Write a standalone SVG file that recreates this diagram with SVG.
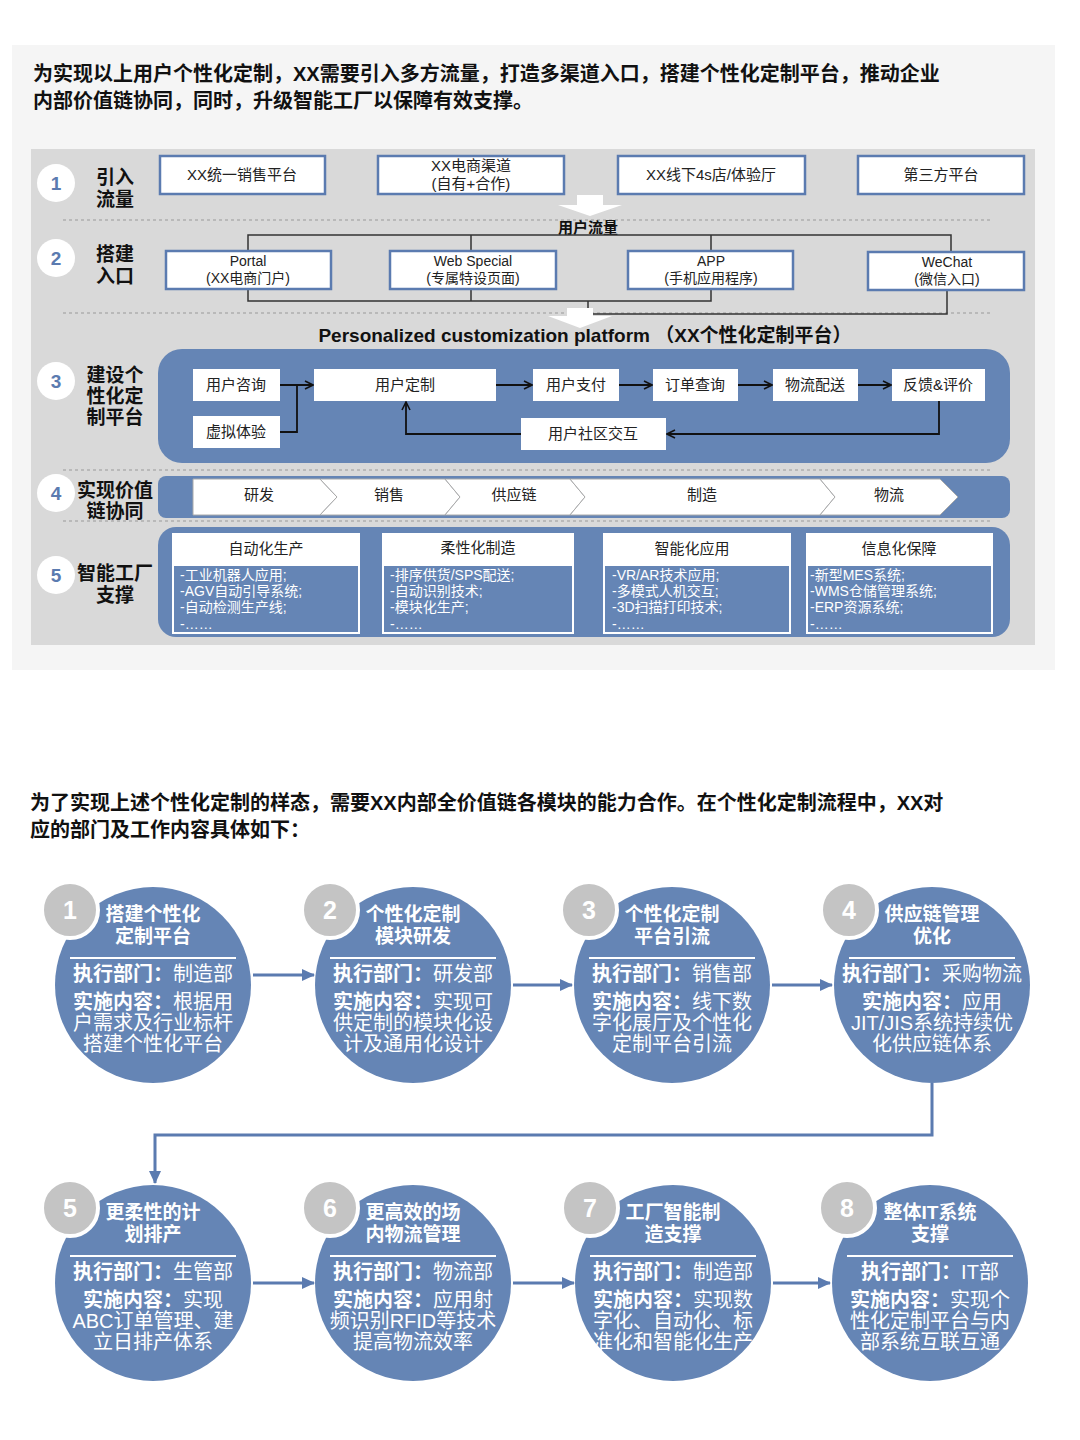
<svg xmlns="http://www.w3.org/2000/svg" width="1080" height="1440" viewBox="0 0 1080 1440">
<defs>
<style>
text{font-family:"Liberation Sans","Noto Sans CJK SC",sans-serif;}
.h{font-size:20px;font-weight:bold;fill:#111;}
.bx{fill:#fff;stroke:#5b7bb0;stroke-width:2.5;}
.wb{fill:#fff;}
.t{font-size:15px;fill:#222;text-anchor:middle;}
.ts{font-size:14px;fill:#222;text-anchor:middle;}
.lb{font-size:19px;font-weight:bold;fill:#111;text-anchor:middle;}
.num{font-size:19px;font-weight:bold;fill:#5b7bb0;text-anchor:middle;}
.ln{fill:none;stroke:#333;stroke-width:1.5;}
.dk{fill:none;stroke:#111;stroke-width:1.8;}
.dash{stroke:#999;stroke-width:1;stroke-dasharray:3 3;}
.blue{fill:#6585b5;}
.wt{font-size:14px;fill:#fff;}
.ct{font-size:19px;font-weight:bold;fill:#fff;text-anchor:middle;}
.cb{font-size:20px;fill:#fff;text-anchor:middle;}
.cb b{font-weight:bold;}
.gc{fill:#c4c4c4;stroke:#fff;stroke-width:4;}
.gn{font-size:25px;font-weight:bold;fill:#fff;text-anchor:middle;}
.fl{stroke:#5b7bb0;stroke-width:3;fill:none;}
</style>
<marker id="a" markerWidth="10" markerHeight="10" refX="9" refY="5" orient="auto" markerUnits="userSpaceOnUse"><path d="M1,1 L9,5 L1,9" fill="none" stroke="#111" stroke-width="1.6"/></marker>
<marker id="b" markerWidth="14" markerHeight="14" refX="12" refY="7" orient="auto" markerUnits="userSpaceOnUse"><path d="M0,1 L13,7 L0,13 Z" fill="#5b7bb0"/></marker>
</defs>
<rect width="1080" height="1440" fill="#fff"/>
<rect x="12" y="45" width="1043" height="625" fill="#f5f5f5"/>
<text class="h" x="33" y="81">为实现以上用户个性化定制，XX需要引入多方流量，打造多渠道入口，搭建个性化定制平台，推动企业</text>
<text class="h" x="33" y="108">内部价值链协同，同时，升级智能工厂以保障有效支撑。</text>
<rect x="31" y="149" width="1004" height="496" fill="#d9d9d9"/>
<g id="dashes">
<line class="dash" x1="63" y1="220" x2="990" y2="220"/>
<line class="dash" x1="63" y1="313" x2="990" y2="313"/>
<line class="dash" x1="63" y1="470" x2="990" y2="470"/>
<line class="dash" x1="63" y1="521" x2="990" y2="521"/>
</g>
<g id="labels">
<circle cx="56" cy="183" r="19" fill="#fff"/><text class="num" x="56" y="190">1</text>
<text class="lb" x="115" y="184">引入</text><text class="lb" x="115" y="206">流量</text>
<circle cx="56" cy="258" r="19" fill="#fff"/><text class="num" x="56" y="265">2</text>
<text class="lb" x="115" y="261">搭建</text><text class="lb" x="115" y="283">入口</text>
<circle cx="56" cy="381" r="19" fill="#fff"/><text class="num" x="56" y="388">3</text>
<text class="lb" x="115" y="382">建设个</text><text class="lb" x="115" y="403">性化定</text><text class="lb" x="115" y="424">制平台</text>
<circle cx="56" cy="493" r="19" fill="#fff"/><text class="num" x="56" y="500">4</text>
<text class="lb" x="115" y="497">实现价值</text><text class="lb" x="115" y="518">链协同</text>
<circle cx="56" cy="575" r="19" fill="#fff"/><text class="num" x="56" y="582">5</text>
<text class="lb" x="115" y="580">智能工厂</text><text class="lb" x="115" y="602">支撑</text>
</g>
<g id="row1">
<rect class="bx" x="160" y="156" width="165" height="38"/><text class="t" x="242" y="180">XX统一销售平台</text>
<rect class="bx" x="378" y="156" width="186" height="38"/><text class="t" x="471" y="171">XX电商渠道</text><text class="t" x="471" y="189">(自有+合作)</text>
<rect class="bx" x="618" y="156" width="187" height="38"/><text class="t" x="711" y="180">XX线下4s店/体验厅</text>
<rect class="bx" x="858" y="156" width="166" height="38"/><text class="t" x="941" y="180">第三方平台</text>
</g>
<g id="flow1">
<path d="M577,195 H603 V205 H622 L590,216 L558,205 H577 Z" fill="#fff"/>
<text x="588" y="233" font-size="15" font-weight="bold" fill="#111" text-anchor="middle">用户流量</text>
</g>
<g id="connectors-bracket">
<path class="ln" d="M248,251 V235 H951 V251 M471,235 V251 M711,235 V251"/>
<path class="ln" d="M248,289 V301 H711 V289 M471,289 V301 M947,290 V314 H593 M588,301 V308"/>
</g>
<g id="row2">
<rect class="bx" x="166" y="251" width="165" height="38"/><text class="ts" x="248" y="266">Portal</text><text class="ts" x="248" y="283">(XX电商门户)</text>
<rect class="bx" x="390" y="251" width="166" height="38"/><text class="ts" x="473" y="266">Web Special</text><text class="ts" x="473" y="283">(专属特设页面)</text>
<rect class="bx" x="628" y="251" width="165" height="38"/><text class="ts" x="711" y="266">APP</text><text class="ts" x="711" y="283">(手机应用程序)</text>
<rect class="bx" x="868" y="252" width="156" height="38"/><text class="ts" x="947" y="267">WeChat</text><text class="ts" x="947" y="284">(微信入口)</text>
</g>
<path d="M567,308 H593 V316 H612 L580,328 L548,316 H567 Z" fill="#fff"/>
<text x="585" y="342" font-size="19" font-weight="bold" fill="#111" text-anchor="middle">Personalized customization platform （XX个性化定制平台）</text>
<g id="platform">
<rect class="blue" x="158" y="349" width="852" height="114" rx="24"/>
<rect class="wb" x="193" y="369" width="87" height="32"/><text class="t" x="236" y="390">用户咨询</text>
<rect class="wb" x="193" y="416" width="87" height="32"/><text class="t" x="236" y="437">虚拟体验</text>
<rect class="wb" x="314" y="369" width="182" height="32"/><text class="t" x="405" y="390">用户定制</text>
<rect class="wb" x="533" y="369" width="86" height="32"/><text class="t" x="576" y="390">用户支付</text>
<rect class="wb" x="653" y="369" width="85" height="32"/><text class="t" x="695" y="390">订单查询</text>
<rect class="wb" x="773" y="369" width="85" height="32"/><text class="t" x="815" y="390">物流配送</text>
<rect class="wb" x="892" y="369" width="93" height="32"/><text class="t" x="938" y="390">反馈&amp;评价</text>
<rect class="wb" x="521" y="418" width="145" height="32"/><text class="t" x="593" y="439">用户社区交互</text>
</g>
<g id="connectors-platform">
<path class="dk" d="M280,385 H313" marker-end="url(#a)"/>
<path class="dk" d="M280,432 H297 V385"/>
<path class="dk" d="M496,385 H532" marker-end="url(#a)"/>
<path class="dk" d="M619,385 H652" marker-end="url(#a)"/>
<path class="dk" d="M738,385 H772" marker-end="url(#a)"/>
<path class="dk" d="M858,385 H891" marker-end="url(#a)"/>
<path class="dk" d="M939,401 V434 H667" marker-end="url(#a)"/>
<path class="dk" d="M521,434 H406 V402" marker-end="url(#a)"/>
</g>
<g id="valuechain">
<rect class="blue" x="158" y="476" width="852" height="42" rx="8"/>
<g fill="#fff" stroke="#aaa" stroke-width="1">
<path d="M193,479 H320 L337,497 L320,515 H193 Z"/>
<path d="M320,479 H445 L460,497 L445,515 H320 L337,497 Z"/>
<path d="M445,479 H570 L585,497 L570,515 H445 L460,497 Z"/>
<path d="M570,479 H820 L835,497 L820,515 H570 L585,497 Z"/>
<path d="M820,479 H940 L958,497 L940,515 H820 L835,497 Z"/>
</g>
<text class="t" x="259" y="500">研发</text><text class="t" x="389" y="500">销售</text><text class="t" x="514" y="500">供应链</text><text class="t" x="702" y="500">制造</text><text class="t" x="889" y="500">物流</text>
</g>
<g id="factory">
<rect class="blue" x="158" y="527" width="852" height="110" rx="18"/>
<g stroke="#fff" stroke-width="2" fill="none">
<rect x="173" y="565" width="186" height="68"/><rect x="383" y="565" width="190" height="68"/><rect x="604" y="565" width="186" height="68"/><rect x="807" y="565" width="185" height="68"/>
</g>
<rect class="wb" x="172" y="533" width="188" height="32"/><text class="t" x="266" y="554">自动化生产</text>
<rect class="wb" x="382" y="533" width="192" height="32"/><text class="t" x="478" y="553">柔性化制造</text>
<rect class="wb" x="603" y="533" width="188" height="32"/><text class="t" x="692" y="554">智能化应用</text>
<rect class="wb" x="806" y="533" width="187" height="32"/><text class="t" x="899" y="554">信息化保障</text>
<g class="wt">
<text x="180" y="580">-工业机器人应用;</text><text x="180" y="596">-AGV自动引导系统;</text><text x="180" y="612">-自动检测生产线;</text><text x="180" y="629">-……</text>
<text x="390" y="580">-排序供货/SPS配送;</text><text x="390" y="596">-自动识别技术;</text><text x="390" y="612">-模块化生产;</text><text x="390" y="629">-……</text>
<text x="612" y="580">-VR/AR技术应用;</text><text x="612" y="596">-多模式人机交互;</text><text x="612" y="612">-3D扫描打印技术;</text><text x="612" y="629">-……</text>
<text x="810" y="580">-新型MES系统;</text><text x="810" y="596">-WMS仓储管理系统;</text><text x="810" y="612">-ERP资源系统;</text><text x="810" y="629">-……</text>
</g>
</g>
<text class="h" x="30" y="810">为了实现上述个性化定制的样态，需要XX内部全价值链各模块的能力合作。在个性化定制流程中，XX对</text>
<text class="h" x="30" y="837">应的部门及工作内容具体如下：</text>
<g id="flow-connectors">
<path class="fl" d="M253,975 H314" marker-end="url(#b)"/>
<path class="fl" d="M513,985 H572" marker-end="url(#b)"/>
<path class="fl" d="M772,985 H832" marker-end="url(#b)"/>
<path class="fl" d="M932,1083 V1135 H155 V1183" marker-end="url(#b)"/>
<path class="fl" d="M253,1283 H314" marker-end="url(#b)"/>
<path class="fl" d="M513,1283 H574" marker-end="url(#b)"/>
<path class="fl" d="M773,1283 H830" marker-end="url(#b)"/>
</g>
<g id="c1"><circle class="blue" cx="153" cy="985" r="98"/><line x1="70" y1="958" x2="236" y2="958" stroke="#fff" stroke-width="2"/>
<text class="ct" x="153" y="921">搭建个性化</text><text class="ct" x="153" y="943">定制平台</text>
<text class="cb" x="153" y="981"><tspan font-weight="bold">执行部门：</tspan>制造部</text>
<text class="cb" x="153" y="1009"><tspan font-weight="bold">实施内容：</tspan>根据用</text><text class="cb" x="153" y="1030">户需求及行业标杆</text><text class="cb" x="153" y="1051">搭建个性化平台</text>
<circle class="gc" cx="70" cy="910" r="28"/><text class="gn" x="70" y="919">1</text></g>
<g id="c2"><circle class="blue" cx="413" cy="985" r="98"/><line x1="330" y1="958" x2="496" y2="958" stroke="#fff" stroke-width="2"/>
<text class="ct" x="413" y="921">个性化定制</text><text class="ct" x="413" y="943">模块研发</text>
<text class="cb" x="413" y="981"><tspan font-weight="bold">执行部门：</tspan>研发部</text>
<text class="cb" x="413" y="1009"><tspan font-weight="bold">实施内容：</tspan>实现可</text><text class="cb" x="413" y="1030">供定制的模块化设</text><text class="cb" x="413" y="1051">计及通用化设计</text>
<circle class="gc" cx="330" cy="910" r="28"/><text class="gn" x="330" y="919">2</text></g>
<g id="c3"><circle class="blue" cx="672" cy="985" r="98"/><line x1="589" y1="958" x2="755" y2="958" stroke="#fff" stroke-width="2"/>
<text class="ct" x="672" y="921">个性化定制</text><text class="ct" x="672" y="943">平台引流</text>
<text class="cb" x="672" y="981"><tspan font-weight="bold">执行部门：</tspan>销售部</text>
<text class="cb" x="672" y="1009"><tspan font-weight="bold">实施内容：</tspan>线下数</text><text class="cb" x="672" y="1030">字化展厅及个性化</text><text class="cb" x="672" y="1051">定制平台引流</text>
<circle class="gc" cx="589" cy="910" r="28"/><text class="gn" x="589" y="919">3</text></g>
<g id="c4"><circle class="blue" cx="932" cy="985" r="98"/><line x1="849" y1="958" x2="1015" y2="958" stroke="#fff" stroke-width="2"/>
<text class="ct" x="932" y="921">供应链管理</text><text class="ct" x="932" y="943">优化</text>
<text class="cb" x="932" y="981"><tspan font-weight="bold">执行部门：</tspan>采购物流</text>
<text class="cb" x="932" y="1009"><tspan font-weight="bold">实施内容：</tspan>应用</text><text class="cb" x="932" y="1030">JIT/JIS系统持续优</text><text class="cb" x="932" y="1051">化供应链体系</text>
<circle class="gc" cx="849" cy="910" r="28"/><text class="gn" x="849" y="919">4</text></g>
<g id="c5"><circle class="blue" cx="153" cy="1283" r="98"/><line x1="70" y1="1256" x2="236" y2="1256" stroke="#fff" stroke-width="2"/>
<text class="ct" x="153" y="1219">更柔性的计</text><text class="ct" x="153" y="1241">划排产</text>
<text class="cb" x="153" y="1279"><tspan font-weight="bold">执行部门：</tspan>生管部</text>
<text class="cb" x="153" y="1307"><tspan font-weight="bold">实施内容：</tspan>实现</text><text class="cb" x="153" y="1328">ABC订单管理、建</text><text class="cb" x="153" y="1349">立日排产体系</text>
<circle class="gc" cx="70" cy="1208" r="28"/><text class="gn" x="70" y="1217">5</text></g>
<g id="c6"><circle class="blue" cx="413" cy="1283" r="98"/><line x1="330" y1="1256" x2="496" y2="1256" stroke="#fff" stroke-width="2"/>
<text class="ct" x="413" y="1219">更高效的场</text><text class="ct" x="413" y="1241">内物流管理</text>
<text class="cb" x="413" y="1279"><tspan font-weight="bold">执行部门：</tspan>物流部</text>
<text class="cb" x="413" y="1307"><tspan font-weight="bold">实施内容：</tspan>应用射</text><text class="cb" x="413" y="1328">频识别RFID等技术</text><text class="cb" x="413" y="1349">提高物流效率</text>
<circle class="gc" cx="330" cy="1208" r="28"/><text class="gn" x="330" y="1217">6</text></g>
<g id="c7"><circle class="blue" cx="673" cy="1283" r="98"/><line x1="590" y1="1256" x2="756" y2="1256" stroke="#fff" stroke-width="2"/>
<text class="ct" x="673" y="1219">工厂智能制</text><text class="ct" x="673" y="1241">造支撑</text>
<text class="cb" x="673" y="1279"><tspan font-weight="bold">执行部门：</tspan>制造部</text>
<text class="cb" x="673" y="1307"><tspan font-weight="bold">实施内容：</tspan>实现数</text><text class="cb" x="673" y="1328">字化、自动化、标</text><text class="cb" x="673" y="1349">准化和智能化生产</text>
<circle class="gc" cx="590" cy="1208" r="28"/><text class="gn" x="590" y="1217">7</text></g>
<g id="c8"><circle class="blue" cx="930" cy="1283" r="98"/><line x1="847" y1="1256" x2="1013" y2="1256" stroke="#fff" stroke-width="2"/>
<text class="ct" x="930" y="1219">整体IT系统</text><text class="ct" x="930" y="1241">支撑</text>
<text class="cb" x="930" y="1279"><tspan font-weight="bold">执行部门：</tspan>IT部</text>
<text class="cb" x="930" y="1307"><tspan font-weight="bold">实施内容：</tspan>实现个</text><text class="cb" x="930" y="1328">性化定制平台与内</text><text class="cb" x="930" y="1349">部系统互联互通</text>
<circle class="gc" cx="847" cy="1208" r="28"/><text class="gn" x="847" y="1217">8</text></g>
</svg>
